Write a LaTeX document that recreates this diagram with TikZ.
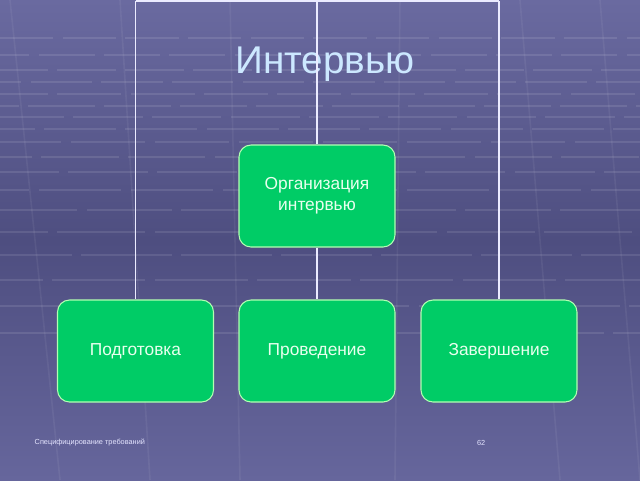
\documentclass[tikz,border=0pt]{standalone}
\usepackage{fontspec}
\setmainfont{Liberation Sans}
\begin{document}
\begin{tikzpicture}[x=0.75pt,y=-0.75pt,
  box/.style={draw=green!30!white,line width=0.8pt,fill=boxgreen,rounded corners=9pt,
    minimum width=117pt,minimum height=76.5pt,inner sep=0pt,
    text=boxtext,font=\fontsize{13}{16}\selectfont,align=center},
  conn/.style={draw=white!92!blue,line width=1.3pt},
  gridrow/.style={draw=white,opacity=0.10,line width=1.6pt}]
\definecolor{boxgreen}{HTML}{00CC66}
\definecolor{boxtext}{HTML}{E8FFEE}
\definecolor{bgtop}{HTML}{6A6AA0}
\definecolor{bgmid}{HTML}{4E4E80}
\definecolor{bgbot}{HTML}{66669C}
\definecolor{titlecol}{HTML}{CCE8FF}
\useasboundingbox (0,0) rectangle (640,480);
\shade[top color=bgtop,bottom color=bgmid] (0,0) rectangle (640,240);
\shade[top color=bgmid,bottom color=bgbot] (0,240) rectangle (640,480);
% floor grid
\foreach \y/\d/\o in {38/40/0,55/42/20,70/44/8,82/46/30,94/48/12,106/50/36,117/52/4,129/54/28,142/56/10,157/58/34,172/60/16,190/62/40,210/64/6,232/66/30,255/68/14,280/70/38,306/72/2,333/74/26}{
  \draw[gridrow,dash pattern=on \d pt off 7pt,dash phase=\o pt] (0,\y) -- (640,\y);
}
\foreach \a/\b in {10/60,120/150,230/240,400/395,520/560,600/640}{
  \draw[draw=white,opacity=0.06,line width=1.2pt] (\a,0) -- (\b,480);
}
% title
\node[text=titlecol,font=\fontsize{29}{32}\selectfont] (title) at (325,64) {Интервью};
% nodes
\node[box] (org) at (317,196) {Организация\\интервью};
\node[box] (pod) at (135.5,351) {Подготовка};
\node[box] (pro) at (317,351) {Проведение};
\node[box] (zav) at (499,351) {Завершение};
\coordinate (top) at (317,1);
\coordinate (tl) at (135.5,1);
\coordinate (tr) at (499,1);
% connectors
\draw[conn] (org.north) -- (top);
\draw[conn] (tl) -- (tr);
\draw[conn] (tl) -- (pod.north);
\draw[conn] (tr) -- (zav.north);
\draw[conn] (org.south) -- (pro.north);
% footer
\node[anchor=west,text=white!90!blue,font=\fontsize{5.5}{7}\selectfont] (foot) at (30,443) {Специфицирование требований};
\node[anchor=east,text=white!90!blue,font=\fontsize{5.5}{7}\selectfont] (num) at (490,443) {62};
\end{tikzpicture}
\end{document}
